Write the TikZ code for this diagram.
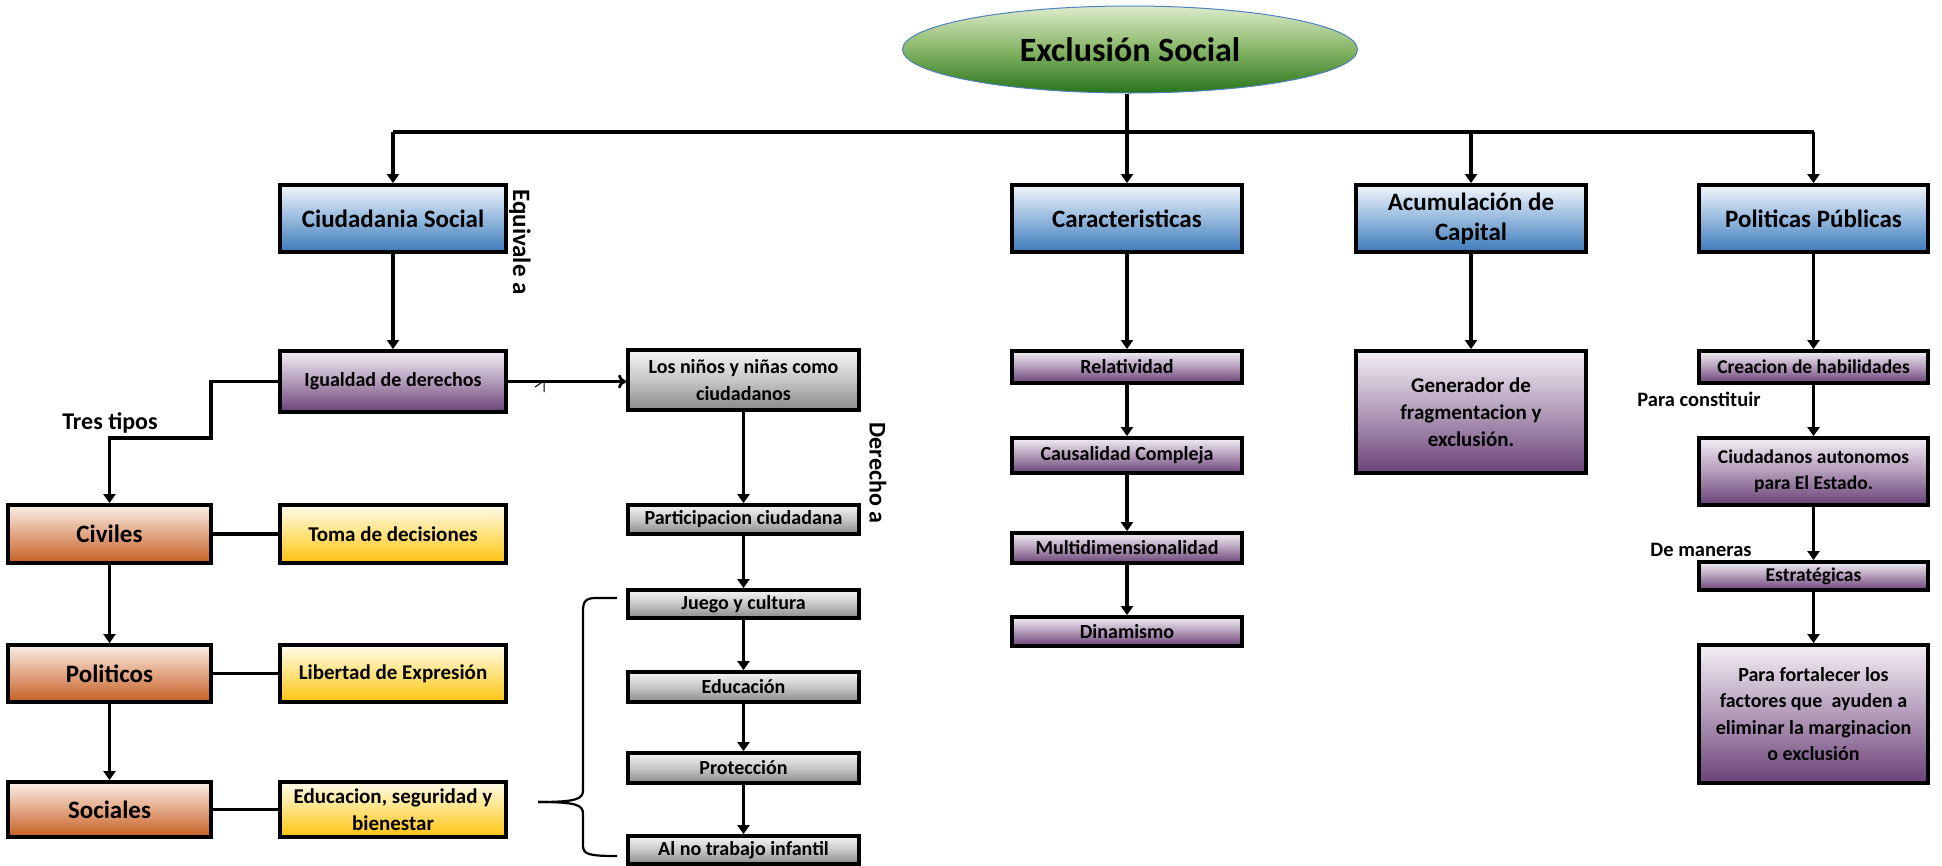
\documentclass[tikz,border=0pt]{standalone}
\usepackage{fontspec}
\setmainfont{Carlito}
\usetikzlibrary{arrows.meta,shapes.geometric}
\definecolor{blueT}{HTML}{F3F7FC}
\definecolor{blueM}{HTML}{96B9DE}
\definecolor{blueB}{HTML}{3A79B8}
\definecolor{purT}{HTML}{F3EFF5}
\definecolor{purM}{HTML}{B29BB9}
\definecolor{purB}{HTML}{6A4278}
\definecolor{orT}{HTML}{FBEFE8}
\definecolor{orM}{HTML}{E2A684}
\definecolor{orB}{HTML}{C55F22}
\definecolor{yeT}{HTML}{FFFBEA}
\definecolor{yeM}{HTML}{FFE27D}
\definecolor{yeB}{HTML}{FFC20E}
\definecolor{grT}{HTML}{F5F5F5}
\definecolor{grM}{HTML}{C6C6C6}
\definecolor{grB}{HTML}{8A8A8A}
\definecolor{elT}{HTML}{DDEBCB}
\definecolor{elM}{HTML}{86B566}
\definecolor{elB}{HTML}{27751B}
\definecolor{elD}{HTML}{4F81BD}
\begin{document}
\begin{tikzpicture}[x=1pt,y=-1pt,
  bx/.style={draw=black,line width=3.8pt,inner sep=1pt,align=center,text=black,
    font=\bfseries\fontsize{20}{27}\selectfont},
  bluebox/.style={bx,top color=blueT,bottom color=blueB,middle color=blueM,
    font=\bfseries\fontsize{25}{30}\selectfont},
  purbox/.style={bx,top color=purT,bottom color=purB,middle color=purM},
  orbox/.style={bx,top color=orT,bottom color=orB,middle color=orM,
    font=\bfseries\fontsize{25}{30}\selectfont},
  yebox/.style={bx,top color=yeT,bottom color=yeB,middle color=yeM,
    font=\bfseries\fontsize{21}{27}\selectfont},
  grbox/.style={bx,top color=grT,bottom color=grB,middle color=grM},
  conn/.style={line width=3.4pt},
  arr/.style={conn,-{Triangle[width=12pt,length=9pt]}},
  openarr/.style={line width=2.8pt,-{To[width=14pt,length=8pt,line width=2.8pt]}},
  lbl/.style={font=\bfseries\fontsize{24}{28}\selectfont,inner sep=0pt},
  slbl/.style={font=\bfseries\fontsize{20.5}{24}\selectfont,inner sep=0pt},
  bracestyle/.style={line width=2.2pt}
]
\useasboundingbox (0,0) rectangle (1942,865);

% root
\node[ellipse,draw=elD,line width=1pt,top color=elT,bottom color=elB,middle color=elM,
  minimum width=455pt,minimum height=87pt,inner sep=0pt,
  font=\bfseries\fontsize{34}{38}\selectfont] (root) at (1130,49.5) {Exclusión Social};

% top level
\node[bluebox,minimum width=226pt,minimum height=67pt] (cs) at (393,218.5) {Ciudadania Social};
\node[bluebox,minimum width=230pt,minimum height=67pt] (car) at (1127,218.5) {Caracteristicas};
\node[bluebox,minimum width=230pt,minimum height=67pt] (acu) at (1471,218.5) {Acumulación de\\Capital};
\node[bluebox,minimum width=229pt,minimum height=67pt] (pol) at (1813.5,218.5) {Politicas Públicas};

\coordinate (bar) at (1127,132);
\draw[conn] (car.north |- root.south) -- (bar);
\draw[conn] (cs.north |- bar) -- (pol.north |- bar);
\draw[arr] (cs.north |- bar) -- (cs.north);
\draw[arr] (bar) -- (car.north);
\draw[arr] (acu.north |- bar) -- (acu.north);
\draw[arr] (pol.north |- bar) -- (pol.north);

% Ciudadania branch
\node[purbox,minimum width=226pt,minimum height=61pt] (ig) at (393,381.5) {Igualdad de derechos};
\draw[arr] (cs) -- (ig);
\node[lbl,rotate=-90,font=\bfseries\fontsize{25}{28}\selectfont] (eq) at (520,242) {Equivale a};

\node[orbox,minimum width=203pt,minimum height=58pt] (civ) at (109.5,534) {Civiles};
\node[orbox,minimum width=203pt,minimum height=57pt] (polit) at (109.5,673.5) {Politicos};
\node[orbox,minimum width=203pt,minimum height=55pt] (soc) at (109.5,809.5) {Sociales};
\node[yebox,minimum width=226pt,minimum height=58pt] (toma) at (393,534) {Toma de decisiones};
\node[yebox,minimum width=226pt,minimum height=57pt] (lib) at (393,673.5) {Libertad de Expresión};
\node[yebox,minimum width=226pt,minimum height=55pt] (edu) at (393,809.5) {Educacion, seguridad y\\bienestar};

\coordinate (tt) at (211,438);
\draw[arr] (ig.west) -| (tt) -| (civ.north);
\node[lbl] (tres) at (110,423) {Tres tipos};
\draw[arr] (civ) -- (polit);
\draw[arr] (polit) -- (soc);
\draw[conn] (civ) -- (toma);
\draw[conn] (polit) -- (lib);
\draw[conn] (soc) -- (edu);

% children column
\node[grbox,minimum width=231pt,minimum height=60pt] (ninos) at (743.5,380) {Los niños y niñas como\\ciudadanos};
\node[grbox,minimum width=231pt,minimum height=29pt] (part) at (743.5,519.5) {Participacion ciudadana};
\node[grbox,minimum width=231pt,minimum height=28pt] (jue) at (743.5,604) {Juego y cultura};
\node[grbox,minimum width=231pt,minimum height=30pt] (educ) at (743.5,687) {Educación};
\node[grbox,minimum width=231pt,minimum height=30pt] (prot) at (743.5,768) {Protección};
\node[grbox,minimum width=231pt,minimum height=28pt] (alno) at (743.5,850) {Al no trabajo infantil};
\draw[openarr] (ig.east) -- (ig.east -| ninos.west);
\draw[line width=1pt] (535,387) -- (544,381) -- (544,392);
\draw[arr] (ninos) -- (part);
\draw[arr] (part) -- (jue);
\draw[arr] (jue) -- (educ);
\draw[arr] (educ) -- (prot);
\draw[arr] (prot) -- (alno);
\node[lbl,rotate=-90] (der) at (878,473) {Derecho a};

% brace
\coordinate (bt) at (617,598);
\coordinate (bm) at (538,802);
\coordinate (bb) at (617,856);
\draw[bracestyle] (bt) -- (596,598) .. controls (586,598) and (583,601) .. (583,611)
  -- (583,790) .. controls (583,799) and (577,802) .. (bm);
\draw[bracestyle] (bm) .. controls (577,802) and (583,805) .. (583,814)
  -- (583,845) .. controls (583,854) and (587,856) .. (bb);

% caracteristicas column
\node[purbox,minimum width=230pt,minimum height=32pt] (rel) at (1127,367) {Relatividad};
\node[purbox,minimum width=230pt,minimum height=35pt] (cau) at (1127,455.5) {Causalidad Compleja};
\node[purbox,minimum width=230pt,minimum height=30pt] (mul) at (1127,548) {Multidimensionalidad};
\node[purbox,minimum width=230pt,minimum height=29pt] (din) at (1127,631.5) {Dinamismo};
\draw[arr] (car) -- (rel);
\draw[arr] (rel) -- (cau);
\draw[arr] (cau) -- (mul);
\draw[arr] (mul) -- (din);

% acumulacion
\node[purbox,minimum width=230pt,minimum height=122pt,font=\bfseries\fontsize{21}{27}\selectfont] (gen) at (1471,412) {Generador de\\fragmentacion y\\exclusión.};
\draw[arr] (acu) -- (gen);

% politicas column
\node[purbox,minimum width=229pt,minimum height=32pt,font=\bfseries\fontsize{19.5}{26}\selectfont] (cre) at (1813.5,367) {Creacion de habilidades};
\node[purbox,minimum width=229pt,minimum height=67pt,font=\bfseries\fontsize{19.5}{26}\selectfont] (ciu) at (1813.5,471.5) {Ciudadanos autonomos\\para El Estado.};
\node[purbox,minimum width=229pt,minimum height=28pt,font=\bfseries\fontsize{19.5}{26}\selectfont] (est) at (1813.5,576) {Estratégicas};
\node[purbox,minimum width=229pt,minimum height=138pt,font=\bfseries\fontsize{20}{26.5}\selectfont] (fort) at (1813.5,714) {Para fortalecer los\\factores que\ \ ayuden a\\eliminar la marginacion\\o exclusión};
\draw[arr] (pol) -- (cre);
\draw[arr] (cre) -- (ciu);
\draw[arr] (ciu) -- (est);
\draw[arr] (est) -- (fort);
\node[slbl] (pc) at (1699,399) {Para constituir};
\node[slbl] (dm) at (1701,550) {De maneras};
\end{tikzpicture}
\end{document}
